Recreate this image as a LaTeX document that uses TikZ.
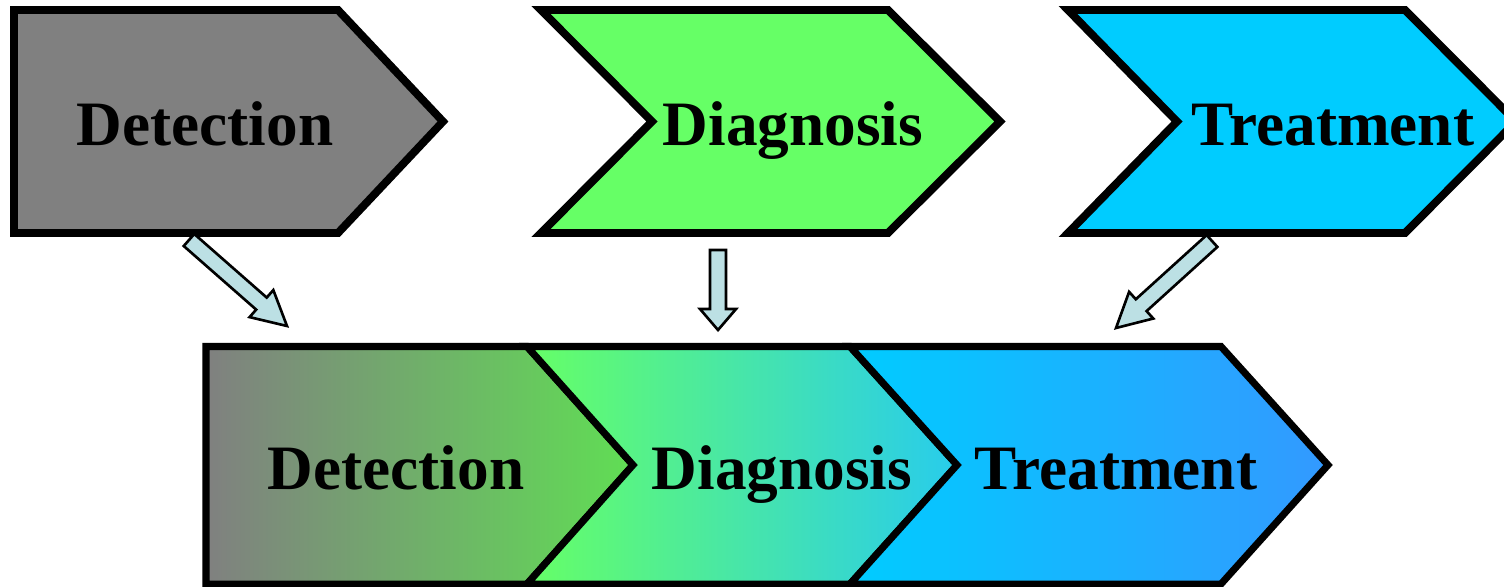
\documentclass[tikz,border=0pt]{standalone}
\usepackage{fontspec}
\setmainfont{Liberation Serif}
\usetikzlibrary{calc}
\definecolor{stepgray}{RGB}{128,128,128}
\definecolor{stepgreen}{RGB}{102,255,102}
\definecolor{stepcyan}{RGB}{0,204,255}
\definecolor{midgreen}{RGB}{96,222,84}
\definecolor{midcyan}{RGB}{40,204,236}
\definecolor{endblue}{RGB}{51,153,255}
\definecolor{arrowfill}{RGB}{188,224,228}
\tikzset{
  chevron/.style={draw=black, line width=4.5pt, line join=miter},
  label/.style={font=\fontsize{36}{40}\selectfont\bfseries, anchor=base, inner sep=0pt},
  arrowbody/.style={fill=arrowfill, draw=black, line width=1.5pt, line join=miter}
}
% fat arrow from #2 to #3, #1 = head length
\newcommand{\blockarrow}[3][0.68cm]{%
  \path ($(#3)!#1!(#2)$) coordinate (hb);
  \filldraw[arrowbody] ($(#2)!0.16cm!90:(#3)$) -- ($(hb)!0.16cm!90:(#3)$)
    -- ($(hb)!0.36cm!90:(#3)$) -- (#3) -- ($(hb)!0.36cm!-90:(#3)$)
    -- ($(hb)!0.16cm!-90:(#3)$) -- ($(#2)!0.16cm!-90:(#3)$) -- cycle;}

\begin{document}
\begin{tikzpicture}[x=0.02cm, y=-0.02cm]
\useasboundingbox (0,0) rectangle (1504,586);
% separate steps
\filldraw[chevron, fill=stepgray] (14,10) -- (338,10) -- (443,121.5) -- (338,233) -- (14,233) -- cycle;
\filldraw[chevron, fill=stepgreen] (541,10) -- (888,10) -- (1000,121.5) -- (888,233) -- (541,233) -- (652,121.5) -- cycle;
\filldraw[chevron, fill=stepcyan] (1068,10) -- (1405,10) -- (1516,121.5) -- (1405,233) -- (1068,233) -- (1177,121.5) -- cycle;
\node[label] (det) at (205,145) {Detection};
\node[label] (dia) at (793,145) {Diagnosis};
\node[label] (tre) at (1333,145) {Treatment};
% combined steps
\draw[chevron, line width=4pt, left color=stepgray, right color=midgreen] (206,346.5) -- (527,346.5) -- (633,465) -- (527,584) -- (206,584) -- cycle;
\draw[chevron, line width=4pt, left color=stepgreen, right color=midcyan] (527,346.5) -- (850,346.5) -- (957,465) -- (850,584) -- (527,584) -- (633,465) -- cycle;
\draw[chevron, line width=4pt, left color=stepcyan, right color=endblue] (850,346.5) -- (1221,346.5) -- (1328,465) -- (1221,584) -- (850,584) -- (957,465) -- cycle;
\node[label] (det2) at (396,489) {Detection};
\node[label] (dia2) at (782,489) {Diagnosis};
\node[label] (tre2) at (1116,489) {Treatment};
% arrows
\coordinate (a1) at (189,240);
\coordinate (b1) at (287,326);
\coordinate (a2) at (718,250);
\coordinate (b2) at (718,330);
\coordinate (a3) at (1212,241);
\coordinate (b3) at (1116,328);
\blockarrow{a1}{b1}
\blockarrow[0.42cm]{a2}{b2}
\blockarrow{a3}{b3}
\end{tikzpicture}
\end{document}
